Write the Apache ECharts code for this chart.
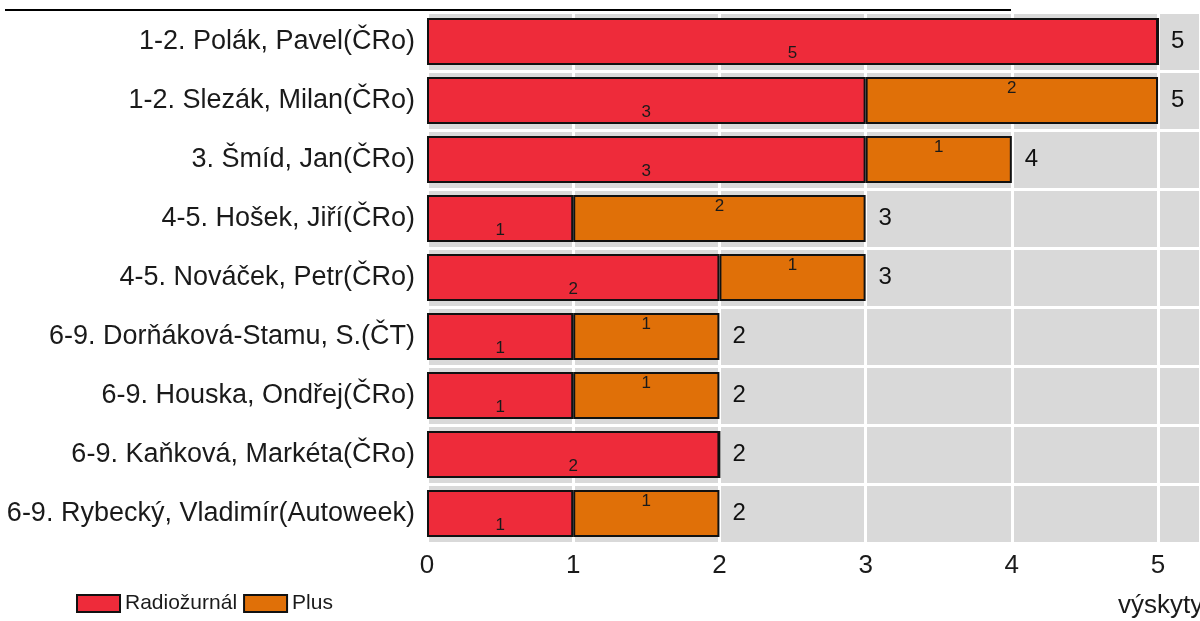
<!DOCTYPE html>
<html>
<head>
<meta charset="utf-8">
<script src="https://cdn.jsdelivr.net/npm/echarts@6/dist/echarts.min.js"></script>
<style>
  html, body { margin: 0; padding: 0; background: #ffffff; }
  #chart { width: 1200px; height: 621px; }
</style>
</head>
<body>
<div id="chart"></div>
<script>
const categories = [
  "1-2. Polák, Pavel(ČRo)",
  "1-2. Slezák, Milan(ČRo)",
  "3. Šmíd, Jan(ČRo)",
  "4-5. Hošek, Jiří(ČRo)",
  "4-5. Nováček, Petr(ČRo)",
  "6-9. Dorňáková-Stamu, S.(ČT)",
  "6-9. Houska, Ondřej(ČRo)",
  "6-9. Kaňková, Markéta(ČRo)",
  "6-9. Rybecký, Vladimír(Autoweek)"
];
const radiozurnal = [5, 3, 3, 1, 2, 1, 1, 2, 1];
const plus = [0, 2, 1, 2, 1, 1, 1, 0, 1];
const xTicks = [0, 1, 2, 3, 4, 5];

const totals = categories.map((c, i) => [radiozurnal[i] + plus[i], c]);

const FONT = '"Liberation Sans", Arial, sans-serif';
const chart = echarts.init(document.getElementById('chart'));

const innerLabel = (offsetY) => ({
  show: true,
  position: 'inside',
  offset: [0, offsetY],
  fontFamily: FONT,
  fontSize: 17,
  color: '#1a1a1a',
  formatter: p => (p.value ? String(p.value) : '')
});

chart.setOption({
  animation: false,
  backgroundColor: '#ffffff',
  grid: {
    left: 427, right: 0, top: 12, bottom: 78,
    show: true, backgroundColor: '#d9d9d9', borderWidth: 0
  },
  legend: {
    left: 71, top: 588,
    itemWidth: 43, itemHeight: 17, itemGap: 6,
    icon: 'rect',
    textStyle: { fontFamily: FONT, fontSize: 21, color: '#1a1a1a', padding: [0, 0, 0, 0] },
    data: ['Radiožurnál', 'Plus']
  },
  xAxis: {
    type: 'value',
    min: 0, max: 5.287, interval: 1,
    axisLine: { show: false },
    axisTick: { show: false },
    splitLine: { show: true, lineStyle: { color: '#ffffff', width: 3 } },
    axisLabel: {
      showMaxLabel: false,
      margin: 10,
      fontFamily: FONT, fontSize: 26, color: '#1a1a1a',
      formatter: v => (xTicks.indexOf(v) >= 0 ? String(v) : '')
    }
  },
  yAxis: {
    type: 'category',
    data: categories,
    inverse: true,
    axisLine: { show: false },
    axisTick: { show: false },
    splitLine: { show: true, lineStyle: { color: '#ffffff', width: 3 } },
    axisLabel: { margin: 12, fontFamily: FONT, fontSize: 27, color: '#1a1a1a' }
  },
  graphic: [
    { type: 'line', shape: { x1: 5, y1: 10, x2: 1011, y2: 10 }, style: { stroke: '#000000', lineWidth: 2 } },
    { type: 'text', left: 1118, top: 593, style: { text: 'výskyty', font: '26px "Liberation Sans", Arial, sans-serif', fill: '#1a1a1a' } }
  ],
  series: [
    {
      name: 'Radiožurnál', type: 'bar', stack: 'total',
      barCategoryGap: '20%',
      data: radiozurnal,
      itemStyle: { color: '#ee2b3a', borderColor: '#111111', borderWidth: 2 },
      label: innerLabel(12)
    },
    {
      name: 'Plus', type: 'bar', stack: 'total',
      barCategoryGap: '20%',
      data: plus,
      itemStyle: { color: '#e07008', borderColor: '#111111', borderWidth: 2 },
      label: innerLabel(-12)
    },
    {
      name: 'total', type: 'scatter',
      data: totals,
      symbolSize: 0,
      silent: true,
      itemStyle: { opacity: 1 },
      label: {
        show: true, position: 'right', distance: 13,
        fontFamily: FONT, fontSize: 24, color: '#111111', opacity: 1,
        formatter: p => String(p.value[0])
      }
    }
  ]
});
</script>
</body>
</html>
